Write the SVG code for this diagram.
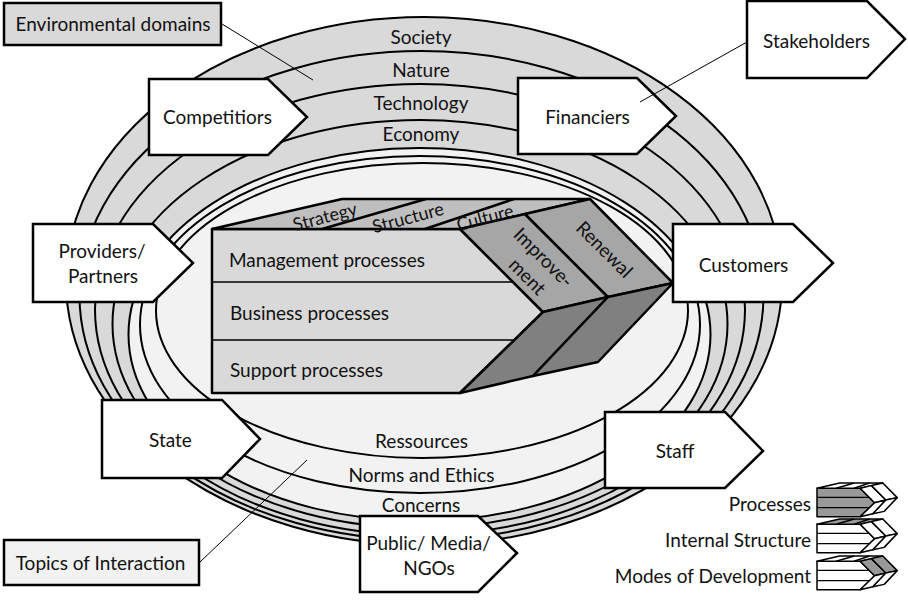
<svg xmlns="http://www.w3.org/2000/svg" xmlns:xlink="http://www.w3.org/1999/xlink" width="908" height="600" viewBox="0 0 908 600">
<style>
text{font-family:Lato,"Liberation Sans",sans-serif;font-size:19px;fill:#111}
.c{text-anchor:middle}
.r{text-anchor:end}
.ring{stroke:#000;stroke-width:2}
.g{fill:#d9d9d9}
.l{fill:#f2f2f2}
.box{fill:#fff;stroke:#000;stroke-width:2.5;stroke-linejoin:miter}
.lead{stroke:#000;stroke-width:1;fill:none}
.sm{font-size:18px}
</style>
<defs>
<path id="front" vector-effect="non-scaling-stroke" d="M212,229 H460 L543,312 L460,393 H212 Z"/>
<path id="rows" vector-effect="non-scaling-stroke" fill="none" d="M212,282 H513 M212,340 H514"/>
<g id="top">
<path vector-effect="non-scaling-stroke" d="M212,229 L342,199 H590 L460,229 Z"/>
<path vector-effect="non-scaling-stroke" fill="none" d="M322,229 L426,199 M425,229 L514,199"/>
</g>
<g id="upper">
<path vector-effect="non-scaling-stroke" d="M460,229 L525,214 L608,297 L543,312 Z"/>
<path vector-effect="non-scaling-stroke" d="M525,214 L590,199 L673,283 L608,297 Z"/>
</g>
<g id="lower">
<path vector-effect="non-scaling-stroke" d="M543,312 L608,297 L533,376 L460,393 Z"/>
<path vector-effect="non-scaling-stroke" d="M608,297 L673,283 L598,362 L533,376 Z"/>
</g>
</defs>

<g id="rings">
<ellipse class="ring g" cx="424" cy="281" rx="358" ry="264"/>
<ellipse class="ring g" cx="421.5" cy="295.5" rx="342" ry="244.5"/>
<ellipse class="ring g" cx="420" cy="309.5" rx="325" ry="225.5"/>
<ellipse class="ring g" cx="420" cy="324" rx="307.5" ry="204"/>
<ellipse class="ring l" cx="419.5" cy="334.5" rx="291" ry="186.5"/>
<ellipse class="ring l" cx="420" cy="324.5" rx="280" ry="168.5"/>
<ellipse class="ring l" cx="422" cy="310.5" rx="266" ry="147.5"/>
<text class="c" x="421" y="43.5">Society</text>
<text class="c" x="421" y="76.5">Nature</text>
<text class="c" x="421" y="109.5">Technology</text>
<text class="c" x="421" y="140.5">Economy</text>
<text class="c" x="421.5" y="448">Ressources</text>
<text class="c" x="421.5" y="481.5">Norms and Ethics</text>
<text class="c" x="421" y="511.5">Concerns</text>
</g>

<g id="organisation" stroke="#000" stroke-linejoin="round">
<use href="#front" fill="#d9d9d9" stroke-width="2.5"/>
<use href="#rows" stroke-width="1.5"/>
<use href="#top" fill="#bfbfbf" stroke-width="2.5"/>
<use href="#upper" fill="#a6a6a6" stroke-width="2.5"/>
<use href="#lower" fill="#808080" stroke-width="2.5"/>
<text x="229" y="266.5" stroke="none">Management processes</text>
<text x="230" y="319.5" stroke="none">Business processes</text>
<text x="230" y="376.5" stroke="none">Support processes</text>
<text class="c sm" x="325" y="223" stroke="none" transform="rotate(-15 325 217)">Strategy</text>
<text class="c sm" x="408" y="224" stroke="none" transform="rotate(-15 408 218)">Structure</text>
<text class="c sm" x="485" y="224" stroke="none" transform="rotate(-15 485 218)">Culture</text>
<text class="c" x="543" y="264" stroke="none" transform="rotate(45 543 258)">Improve-</text>
<text class="c" x="527" y="283" stroke="none" transform="rotate(45 527 277)">ment</text>
<text class="c" x="604" y="256" stroke="none" transform="rotate(45 604 250)">Renewal</text>
</g>

<g id="env-domains">
<rect x="4" y="3" width="217" height="42" fill="#d9d9d9" stroke="#000" stroke-width="2.5"/>
<text class="c" x="113" y="30.5">Environmental domains</text>
</g>
<g id="topics">
<rect x="4" y="540" width="195" height="45" fill="#f2f2f2" stroke="#000" stroke-width="2.5"/>
<text class="c" x="100.5" y="569.5">Topics of Interaction</text>
</g>

<g id="competitors">
<path class="box" d="M149,79 H268 L307,117 L268,155 H149 Z"/>
<text class="c" x="217.5" y="123.5">Competitiors</text>
</g>
<g id="financiers">
<path class="box" d="M518,78 H637 L676,116 L637,154 H518 Z"/>
<text class="c" x="587.5" y="123.5">Financiers</text>
</g>
<g id="stakeholders">
<path class="box" d="M747,1 H867 L905,39 L867,78 H747 Z"/>
<text class="c" x="816.5" y="48">Stakeholders</text>
</g>
<g id="providers">
<path class="box" d="M33,224 H153 L193,263 L153,302 H33 Z"/>
<text class="c" x="102" y="258">Providers/</text>
<text class="c" x="103" y="283">Partners</text>
</g>
<g id="customers">
<path class="box" d="M673,224 H793 L833,263 L793,302 H673 Z"/>
<text class="c" x="743.5" y="271.5">Customers</text>
</g>
<g id="state">
<path class="box" d="M102,400 H222 L260,439 L222,478 H102 Z"/>
<text class="c" x="170.5" y="446.5">State</text>
</g>
<g id="staff">
<path class="box" d="M605,412 H725 L763,451 L725,488 H605 Z"/>
<text class="c" x="675" y="457.5">Staff</text>
</g>
<g id="public">
<path class="box" d="M360,516 H478 L517,553 L478,592 H360 Z"/>
<text class="c" x="428.5" y="549.5">Public/ Media/</text>
<text class="c" x="429" y="574.5">NGOs</text>
</g>

<g id="legend" stroke="#000" stroke-linejoin="round">
<g transform="translate(817 483) scale(0.174) translate(-212 -199)">
<use href="#front" fill="#999" stroke-width="1.5"/>
<use href="#rows" stroke-width="1.2"/>
<use href="#top" fill="#fff" stroke-width="1.5"/>
<use href="#upper" fill="#fff" stroke-width="1.5"/>
<use href="#lower" fill="#fff" stroke-width="1.5"/>
</g>
<g transform="translate(817 519) scale(0.174) translate(-212 -199)">
<use href="#front" fill="#fff" stroke-width="1.5"/>
<use href="#rows" stroke-width="1.2"/>
<use href="#top" fill="#999" stroke-width="1.5"/>
<use href="#upper" fill="#fff" stroke-width="1.5"/>
<use href="#lower" fill="#fff" stroke-width="1.5"/>
</g>
<g transform="translate(817 556) scale(0.174) translate(-212 -199)">
<use href="#front" fill="#fff" stroke-width="1.5"/>
<use href="#rows" stroke-width="1.2"/>
<use href="#top" fill="#fff" stroke-width="1.5"/>
<use href="#upper" fill="#999" stroke-width="1.5"/>
<use href="#lower" fill="#fff" stroke-width="1.5"/>
</g>
<text class="r" x="811" y="511" stroke="none">Processes</text>
<text class="r" x="811" y="547" stroke="none">Internal Structure</text>
<text class="r" x="811" y="583" stroke="none">Modes of Development</text>
</g>

<g id="connectors">
<line class="lead" x1="222" y1="24" x2="313" y2="80"/>
<line class="lead" x1="747" y1="42" x2="640" y2="102"/>
<line class="lead" x1="200" y1="562" x2="307" y2="460"/>
</g>
</svg>
